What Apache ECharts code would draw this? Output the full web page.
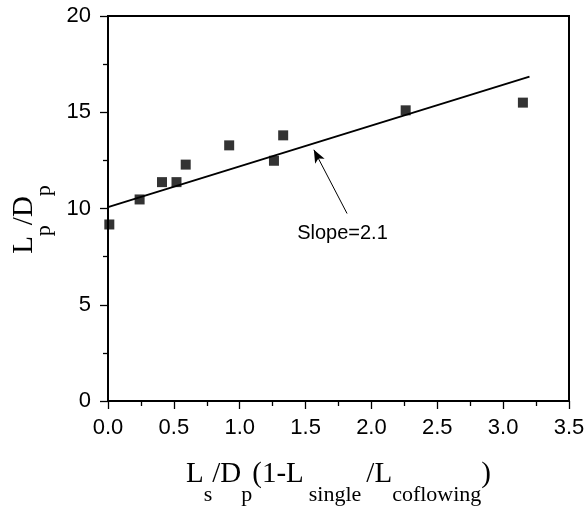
<!DOCTYPE html>
<html>
<head>
<meta charset="utf-8">
<title>Lp/Dp</title>
<script src="https://cdn.jsdelivr.net/npm/echarts@6.0.0/dist/echarts.min.js"></script>
<style>
  html, body { margin: 0; padding: 0; background: #fff; }
  #main { width: 588px; height: 508px; }
</style>
</head>
<body>
<div id="main"></div>
<script>
// measured points
var xVals = [0.01, 0.24, 0.41, 0.52, 0.59, 0.92, 1.26, 1.33, 2.26, 3.15];
var yVals = [9.17, 10.47, 11.37, 11.37, 12.28, 13.28, 12.48, 13.80, 15.10, 15.50];

// fitted line, slope 2.1
var fitX = [0, 3.2];
var fitY = [10.07, 16.85];

// arrow pointing at the line
var arrowFrom = [1.815, 9.74];
var arrowTo = [1.563, 13.05];
var slopeText = 'Slope=2.1';
var slopeAt = [1.78, 8.7];

var xTicks = ['0.0', '0.5', '1.0', '1.5', '2.0', '2.5', '3.0', '3.5'];

var pts = xVals.map(function (x, i) { return [x, yVals[i]]; });
var fit = fitX.map(function (x, i) { return [x, fitY[i]]; });

var myChart = echarts.init(document.getElementById('main'));

var serif = 'Liberation Serif';
var sans = 'Liberation Sans';

var titleRich = {
  m: { fontFamily: serif, fontSize: 29, lineHeight: 30, color: '#000', verticalAlign: 'top' },
  s: { fontFamily: serif, fontSize: 22, lineHeight: 22, color: '#000', verticalAlign: 'top', padding: [24, 0, 0, 0] },
  sg: { fontFamily: serif, fontSize: 22, lineHeight: 22, color: '#000', verticalAlign: 'top', padding: [24, 5, 0, 5] },
  e: { fontFamily: serif, fontSize: 22, lineHeight: 22, color: '#000', verticalAlign: 'top', padding: [24, 22, 0, 0] }
};

var option = {
  animation: false,
  grid: {
    left: 108,
    top: 16,
    right: 19,
    bottom: 107,
    outerBoundsMode: 'none',
    show: true,
    borderColor: '#000',
    borderWidth: 2,
    backgroundColor: 'transparent'
  },
  xAxis: {
    type: 'value',
    min: 0,
    max: 3.5,
    interval: 0.5,
    name: '{m|L}{s|s}{m|/D}{s|p}{m|(1-L}{sg|single}{m|/L}{s|coflowing}{m|)}',
    nameLocation: 'middle',
    nameGap: 59,
    nameTextStyle: { rich: titleRich },
    axisLine: { onZero: false, lineStyle: { color: '#000', width: 2 } },
    axisTick: { inside: false, length: 8, lineStyle: { color: '#000', width: 1.3 } },
    minorTick: { show: true, splitNumber: 2, length: 5, lineStyle: { color: '#000', width: 1.3 } },
    splitLine: { show: false },
    axisLabel: {
      margin: 16,
      fontFamily: sans,
      fontSize: 22,
      color: '#000',
      formatter: function (v) { return xTicks[Math.round(v / 0.5)]; }
    }
  },
  yAxis: {
    type: 'value',
    min: 0,
    max: 20,
    interval: 5,
    name: '{m|L}{s|p}{m|/D}{e|p}',
    nameLocation: 'middle',
    nameGap: 56,
    nameRotate: 90,
    nameTextStyle: { rich: titleRich },
    axisLine: { onZero: false, lineStyle: { color: '#000', width: 2 } },
    axisTick: { inside: false, length: 8, lineStyle: { color: '#000', width: 1.3 } },
    minorTick: { show: true, splitNumber: 2, length: 5, lineStyle: { color: '#000', width: 1.3 } },
    splitLine: { show: false },
    axisLabel: {
      margin: 17,
      fontFamily: sans,
      fontSize: 22,
      color: '#000'
    }
  },
  series: [
    {
      type: 'line',
      data: fit,
      showSymbol: false,
      symbol: 'none',
      lineStyle: { color: '#000', width: 2 },
      z: 2,
      markLine: {
        silent: true,
        symbol: ['none', 'arrow'],
        symbolSize: [8, 13],
        lineStyle: { color: '#000', width: 1, type: 'solid' },
        label: { show: false },
        data: [[{ coord: arrowFrom }, { coord: arrowTo }]]
      },
      markPoint: {
        silent: true,
        symbol: 'rect',
        symbolSize: 0,
        label: {
          show: true,
          position: 'inside',
          formatter: slopeText,
          fontFamily: sans,
          fontSize: 20,
          color: '#000'
        },
        data: [{ coord: slopeAt }]
      }
    },
    {
      type: 'scatter',
      data: pts,
      symbol: 'rect',
      symbolSize: 10,
      itemStyle: { color: '#000' },
      z: 3
    }
  ]
};

myChart.setOption(option);
</script>
</body>
</html>
